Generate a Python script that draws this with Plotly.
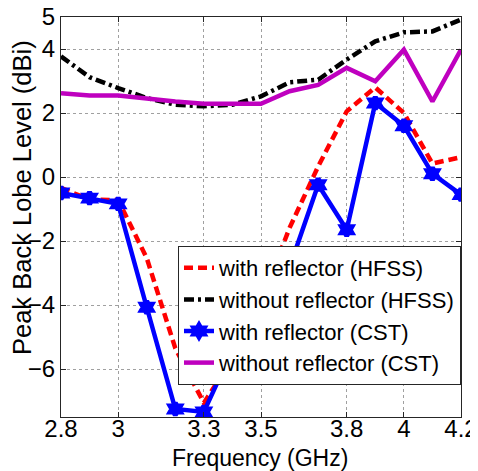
import plotly.graph_objects as go

freq = [2.8, 2.9, 3.0, 3.1, 3.2, 3.3, 3.4, 3.5, 3.6, 3.7, 3.8, 3.9, 4.0, 4.1, 4.2]

hfss_with = [-0.34, -0.71, -0.72, -2.53, -5.35, -7.06, -5.68, -3.9, -1.59, 0.33, 2.05, 2.80, 2.0, 0.42, 0.62]
hfss_without = [3.77, 3.12, 2.78, 2.47, 2.26, 2.21, 2.26, 2.52, 2.96, 3.04, 3.67, 4.24, 4.52, 4.55, 4.92]
cst_with = [-0.5, -0.66, -0.84, -4.07, -7.25, -7.34, -5.4, -4.2, -2.82, -0.24, -1.65, 2.31, 1.6, 0.1, -0.55]
cst_without = [2.62, 2.55, 2.55, 2.44, 2.36, 2.29, 2.29, 2.29, 2.68, 2.88, 3.41, 2.99, 3.98, 2.36, 3.98]

names = ["with reflector (HFSS)", "without reflector (HFSS)",
         "with reflector (CST)", "without reflector (CST)"]

x_ticks = [2.8, 3, 3.3, 3.5, 3.8, 4, 4.2]
x_ticktext = ["2.8", "3", "3.3", "3.5", "3.8", "4", "4.2"]
y_ticks = [-6, -4, -2, 0, 2, 4, 5]

FONT = "Liberation Sans, Arial, sans-serif"

fig = go.Figure()
fig.add_trace(go.Scatter(x=freq, y=hfss_with, mode="lines", name=names[0],
                         line=dict(color="#FF0000", width=4.5, dash="9px,5px")))
fig.add_trace(go.Scatter(x=freq, y=hfss_without, mode="lines", name=names[1],
                         line=dict(color="#000000", width=4.5, dash="10px,4px,3px,4px")))
fig.add_trace(go.Scatter(x=freq, y=cst_with, mode="lines+markers", name=names[2],
                         line=dict(color="#0000FF", width=4.5),
                         marker=dict(symbol="hexagram", size=9, color="#0000FF",
                                     line=dict(color="#0000FF", width=5))))
fig.add_trace(go.Scatter(x=freq, y=cst_without, mode="lines", name=names[3],
                         line=dict(color="#BF00BF", width=4.5)))

axis_common = dict(
    showline=True, linecolor="#262626", linewidth=1, mirror="ticks",
    ticks="inside", ticklen=5, tickcolor="#262626",
    showgrid=True, gridcolor="#A0A0A0", griddash="dot", gridwidth=1,
    zeroline=False, tickfont=dict(family=FONT, size=24, color="black"),
    ticklabeloverflow="allow", automargin=False,
)

fig.update_xaxes(range=[2.8, 4.2], tickvals=x_ticks, ticktext=x_ticktext,
                 ticklabelstandoff=-10, **axis_common)
fig.update_yaxes(range=[-7.5, 5], tickvals=y_ticks, **axis_common)

# page body has an 8px default margin; margins compensate so the plot area sits at 61..461 x 17..417
fig.update_layout(
    width=478, height=471,
    margin=dict(l=53, r=25, t=9, b=62, autoexpand=False),
    paper_bgcolor="white", plot_bgcolor="white",
    font=dict(family=FONT, size=23, color="black"),
    showlegend=True,
    legend=dict(x=1.0, xanchor="right", y=0.4275, yanchor="top",
                bgcolor="white", bordercolor="#262626", borderwidth=1,
                font=dict(family=FONT, size=22, color="black"),
                tracegroupgap=0, itemwidth=30),
    annotations=[
        dict(text="Frequency (GHz)", xref="paper", yref="paper", x=0.4975, y=-0.1025,
             xanchor="center", yanchor="middle", showarrow=False,
             font=dict(family=FONT, size=23, color="black")),
        dict(text="Peak Back Lobe Level (dBi)", xref="paper", yref="paper",
             x=-0.0975, y=0.5475, xanchor="center", yanchor="middle", textangle=-90,
             showarrow=False, font=dict(family=FONT, size=25.5, color="black")),
    ],
)

fig.write_html("out.html")
